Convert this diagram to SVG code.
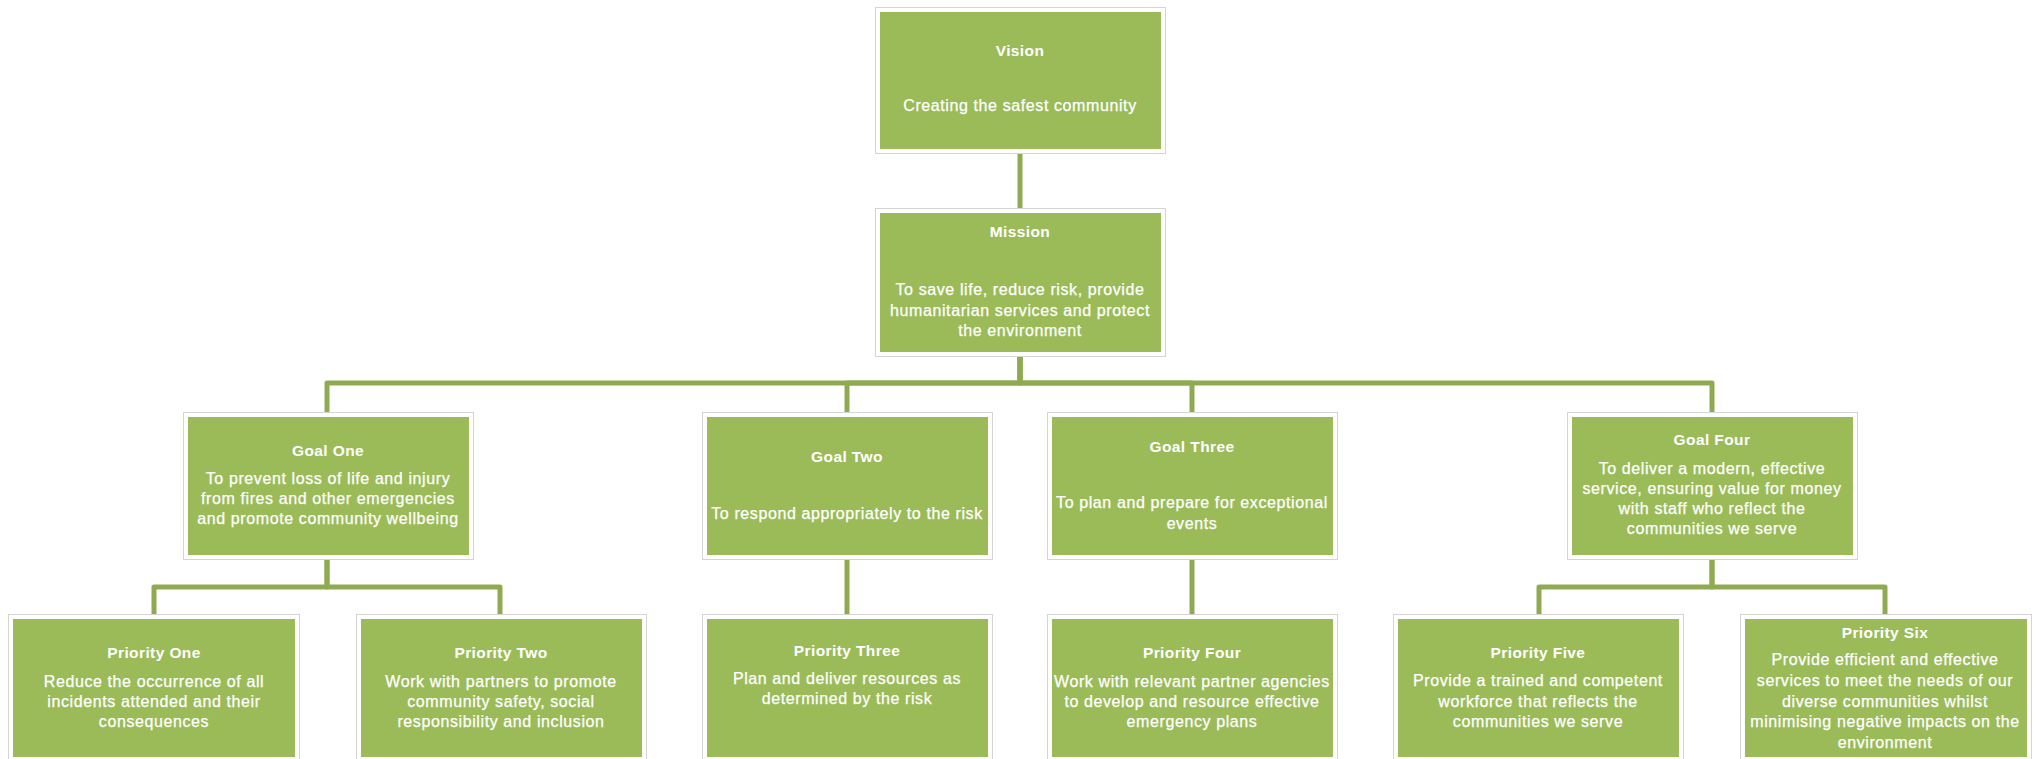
<svg xmlns="http://www.w3.org/2000/svg" width="2038" height="759" viewBox="0 0 2038 759">
<style>
.frame{fill:#ffffff;stroke:#d4d4d4;stroke-width:1}
.box{fill:#9bbb59}
.t{font-family:"Liberation Sans",Arial,sans-serif;font-weight:bold;font-size:15.5px;letter-spacing:0.4px;fill:#ffffff;text-anchor:middle}
.d{font-family:"Liberation Sans",Arial,sans-serif;font-size:16px;letter-spacing:0.6px;fill:#ffffff;stroke:#ffffff;stroke-width:0.25;text-anchor:middle}
.c{fill:none;stroke:#8fab52;stroke-width:5;stroke-linejoin:round}
</style>
<rect width="2038" height="759" fill="#ffffff"/>
<g id="connectors">
<path class="c" d="M1020 153 V209"/>
<path class="c" d="M1020 356 V383 H327 V412"/>
<path class="c" d="M1020 356 V383 H847 V412"/>
<path class="c" d="M1020 356 V383 H1192 V412"/>
<path class="c" d="M1020 356 V383 H1712 V412"/>
<path class="c" d="M327 559 V587 H154 V614"/>
<path class="c" d="M327 559 V587 H500 V614"/>
<path class="c" d="M847 559 V614"/>
<path class="c" d="M1192 559 V614"/>
<path class="c" d="M1712 559 V587 H1539 V614"/>
<path class="c" d="M1712 559 V587 H1885 V614"/>
</g>
<g id="vision">
<rect class="frame" x="875.5" y="7.5" width="290" height="146"/>
<rect class="box" x="880" y="12" width="281" height="137"/>
<text class="t" x="1020" y="56">Vision</text>
<text class="d" x="1020" y="111">Creating the safest community</text>
</g>
<g id="mission">
<rect class="frame" x="875.5" y="208.5" width="290" height="148"/>
<rect class="box" x="880" y="213" width="281" height="139"/>
<text class="t" x="1020" y="237">Mission</text>
<text class="d" x="1020" y="295">To save life, reduce risk, provide</text>
<text class="d" x="1020" y="316">humanitarian services and protect</text>
<text class="d" x="1020" y="336">the environment</text>
</g>
<g id="goal-one">
<rect class="frame" x="183.5" y="412.5" width="290" height="147"/>
<rect class="box" x="188" y="417" width="281" height="138"/>
<text class="t" x="328" y="456">Goal One</text>
<text class="d" x="328" y="484">To prevent loss of life and injury</text>
<text class="d" x="328" y="504">from fires and other emergencies</text>
<text class="d" x="328" y="524">and promote community wellbeing</text>
</g>
<g id="goal-two">
<rect class="frame" x="702.5" y="412.5" width="290" height="147"/>
<rect class="box" x="707" y="417" width="281" height="138"/>
<text class="t" x="847" y="462">Goal Two</text>
<text class="d" x="847" y="519">To respond appropriately to the risk</text>
</g>
<g id="goal-three">
<rect class="frame" x="1047.5" y="412.5" width="290" height="147"/>
<rect class="box" x="1052" y="417" width="281" height="138"/>
<text class="t" x="1192" y="452">Goal Three</text>
<text class="d" x="1192" y="508">To plan and prepare for exceptional</text>
<text class="d" x="1192" y="529">events</text>
</g>
<g id="goal-four">
<rect class="frame" x="1567.5" y="412.5" width="290" height="147"/>
<rect class="box" x="1572" y="417" width="281" height="138"/>
<text class="t" x="1712" y="445">Goal Four</text>
<text class="d" x="1712" y="474">To deliver a modern, effective</text>
<text class="d" x="1712" y="494">service, ensuring value for money</text>
<text class="d" x="1712" y="514">with staff who reflect the</text>
<text class="d" x="1712" y="534">communities we serve</text>
</g>
<g id="priority-one">
<rect class="frame" x="8.5" y="614.5" width="291" height="147"/>
<rect class="box" x="13" y="619" width="282" height="138"/>
<text class="t" x="154" y="658">Priority One</text>
<text class="d" x="154" y="687">Reduce the occurrence of all</text>
<text class="d" x="154" y="707">incidents attended and their</text>
<text class="d" x="154" y="727">consequences</text>
</g>
<g id="priority-two">
<rect class="frame" x="356.5" y="614.5" width="290" height="147"/>
<rect class="box" x="361" y="619" width="281" height="138"/>
<text class="t" x="501" y="658">Priority Two</text>
<text class="d" x="501" y="687">Work with partners to promote</text>
<text class="d" x="501" y="707">community safety, social</text>
<text class="d" x="501" y="727">responsibility and inclusion</text>
</g>
<g id="priority-three">
<rect class="frame" x="702.5" y="614.5" width="290" height="147"/>
<rect class="box" x="707" y="619" width="281" height="138"/>
<text class="t" x="847" y="656">Priority Three</text>
<text class="d" x="847" y="684">Plan and deliver resources as</text>
<text class="d" x="847" y="704">determined by the risk</text>
</g>
<g id="priority-four">
<rect class="frame" x="1047.5" y="614.5" width="290" height="147"/>
<rect class="box" x="1052" y="619" width="281" height="138"/>
<text class="t" x="1192" y="658">Priority Four</text>
<text class="d" x="1192" y="687">Work with relevant partner agencies</text>
<text class="d" x="1192" y="707">to develop and resource effective</text>
<text class="d" x="1192" y="727">emergency plans</text>
</g>
<g id="priority-five">
<rect class="frame" x="1393.5" y="614.5" width="290" height="147"/>
<rect class="box" x="1398" y="619" width="281" height="138"/>
<text class="t" x="1538" y="658">Priority Five</text>
<text class="d" x="1538" y="686">Provide a trained and competent</text>
<text class="d" x="1538" y="707">workforce that reflects the</text>
<text class="d" x="1538" y="727">communities we serve</text>
</g>
<g id="priority-six">
<rect class="frame" x="1740.5" y="614.5" width="291" height="147"/>
<rect class="box" x="1745" y="619" width="282" height="138"/>
<text class="t" x="1885" y="638">Priority Six</text>
<text class="d" x="1885" y="665">Provide efficient and effective</text>
<text class="d" x="1885" y="686">services to meet the needs of our</text>
<text class="d" x="1885" y="707">diverse communities whilst</text>
<text class="d" x="1885" y="727">minimising negative impacts on the</text>
<text class="d" x="1885" y="748">environment</text>
</g>
</svg>
